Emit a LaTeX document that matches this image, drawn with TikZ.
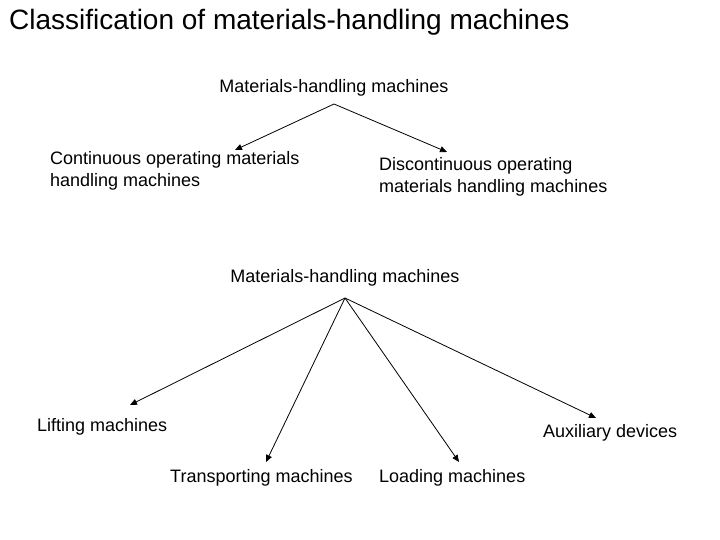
\documentclass[tikz,border=0pt]{standalone}
\usepackage{fontspec}
\setmainfont{Liberation Sans}
\usetikzlibrary{arrows.meta}
\begin{document}
\begin{tikzpicture}[x=1pt,y=-1pt,
  lbl/.style={inner sep=0pt,font=\fontsize{18}{22}\selectfont},
  lblL/.style={lbl,anchor=west,align=left},
  arr/.style={line width=0.8pt,-{Triangle[length=7pt,width=6pt]}}]
\useasboundingbox (0,0) rectangle (720,540);
\node[anchor=west,inner sep=0pt,font=\fontsize{28}{32}\selectfont] (title) at (9,22) {Classification of materials-handling machines};
\node[lbl] (r1) at (334,88) {Materials-handling machines};
\coordinate (a1) at (334,104);
\node[lblL] (c) at (50,171) {Continuous operating materials\\handling machines};
\node[lblL] (d) at (379,177) {Discontinuous operating\\materials handling machines};
\coordinate (ce) at (235,150);
\coordinate (de) at (447,152);
\draw[arr] (a1) -- (ce);
\draw[arr] (a1) -- (de);
\node[lbl] (r2) at (345,278) {Materials-handling machines};
\coordinate (a2) at (345,298);
\node[lblL] (lift) at (37,427) {Lifting machines};
\node[lblL] (aux) at (543,433) {Auxiliary devices};
\node[lblL] (tr) at (170,478) {Transporting machines};
\node[lblL] (lo) at (379,478) {Loading machines};
\coordinate (le) at (130,405);
\coordinate (te) at (266,462);
\coordinate (loe) at (459,462);
\coordinate (ae) at (596,418);
\draw[arr] (a2) -- (le);
\draw[arr] (a2) -- (te);
\draw[arr] (a2) -- (loe);
\draw[arr] (a2) -- (ae);
\end{tikzpicture}
\end{document}
